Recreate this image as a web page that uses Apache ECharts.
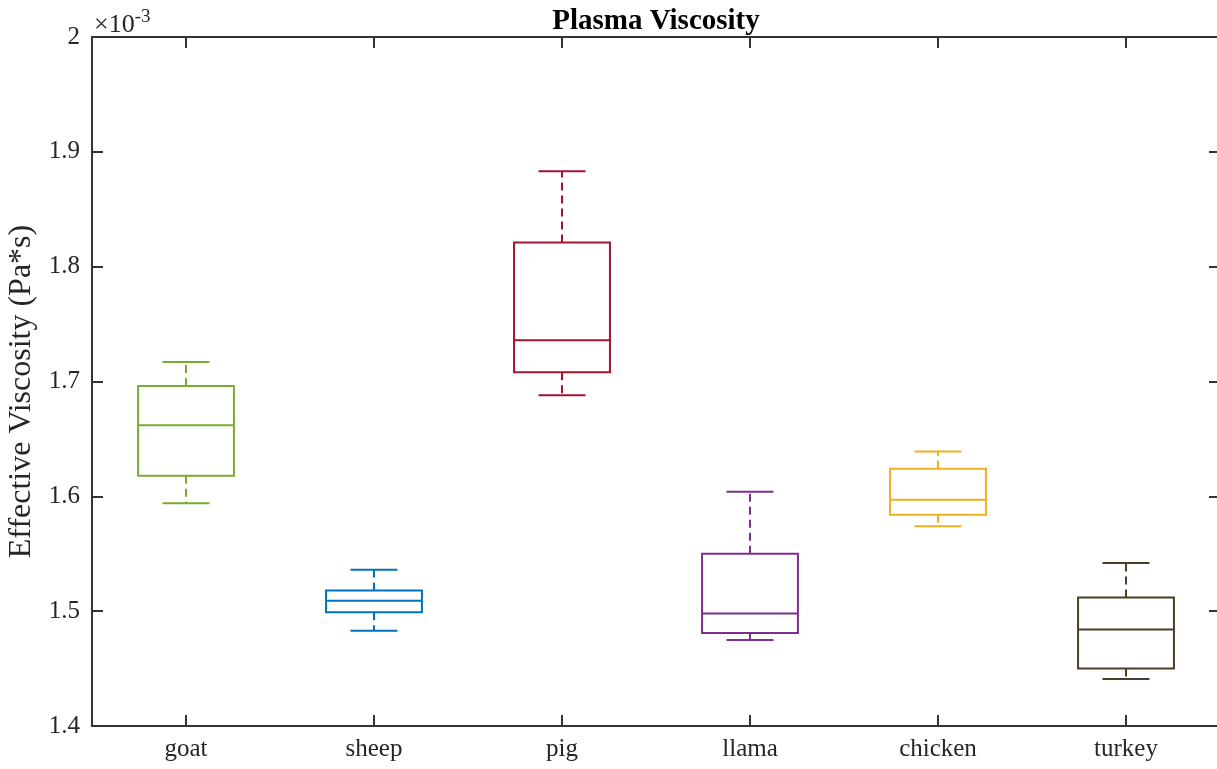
<!DOCTYPE html>
<html>
<head>
<meta charset="utf-8">
<title>Plasma Viscosity</title>
<script src="https://cdn.jsdelivr.net/npm/echarts@6/dist/echarts.min.js"></script>
<style>
  html, body { margin: 0; padding: 0; background: #ffffff; }
  #chart { width: 1217px; height: 769px; }
</style>
</head>
<body>
<div id="chart"></div>
<script>
// Effective plasma viscosity per species, in units of 1e-3 Pa*s
const categories = ['goat', 'sheep', 'pig', 'llama', 'chicken', 'turkey'];
const whiskerLow = [1.594, 1.483, 1.688, 1.475, 1.574, 1.441];
const quartile1  = [1.618, 1.499, 1.708, 1.481, 1.584, 1.450];
const median     = [1.662, 1.509, 1.736, 1.498, 1.597, 1.484];
const quartile3  = [1.696, 1.518, 1.821, 1.550, 1.624, 1.512];
const whiskerHigh = [1.717, 1.536, 1.883, 1.604, 1.639, 1.542];
const boxColors = ['#77AC30', '#0072BD', '#A2142F', '#7E2F8E', '#EDB120', '#4f3d26'];
const yTicks = { min: 1.4, max: 2.0, step: 0.1 };

const FONT = '"Liberation Serif", "Times New Roman", serif';
const AXIS_COLOR = '#333333';
const GRID = { left: 92, top: 37, width: 1128, height: 689 };

const boxData = categories.map((c, i) =>
  [i, whiskerLow[i], quartile1[i], median[i], quartile3[i], whiskerHigh[i]]);

function renderBox(params, api) {
  const i = api.value(0);
  const band = api.size([1, 0])[0];
  const boxHalf = band * 0.255;
  const capHalf = band * 0.125;
  const pLow = api.coord([i, api.value(1)]);
  const pQ1 = api.coord([i, api.value(2)]);
  const pMed = api.coord([i, api.value(3)]);
  const pQ3 = api.coord([i, api.value(4)]);
  const pHigh = api.coord([i, api.value(5)]);
  const x = pMed[0];
  const color = boxColors[i];
  const solid = { stroke: color, lineWidth: 2, fill: null };
  const dashed = { stroke: color, lineWidth: 2, lineDash: [8, 5] };
  return {
    type: 'group',
    children: [
      { type: 'line', shape: { x1: x, y1: pQ3[1], x2: x, y2: pHigh[1] }, style: dashed },
      { type: 'line', shape: { x1: x, y1: pQ1[1], x2: x, y2: pLow[1] }, style: dashed },
      { type: 'line', shape: { x1: x - capHalf, y1: pHigh[1], x2: x + capHalf, y2: pHigh[1] }, style: solid },
      { type: 'line', shape: { x1: x - capHalf, y1: pLow[1], x2: x + capHalf, y2: pLow[1] }, style: solid },
      { type: 'rect', shape: { x: x - boxHalf, y: pQ3[1], width: boxHalf * 2, height: pQ1[1] - pQ3[1] }, style: solid },
      { type: 'line', shape: { x1: x - boxHalf, y1: pMed[1], x2: x + boxHalf, y2: pMed[1] }, style: solid }
    ]
  };
}

const frameLine = { show: true, lineStyle: { color: AXIS_COLOR, width: 2 } };
const innerTick = { show: true, inside: true, length: 11, lineStyle: { color: AXIS_COLOR, width: 2 } };

const chart = echarts.init(document.getElementById('chart'), null, { renderer: 'canvas' });
chart.setOption({
  animation: false,
  backgroundColor: '#ffffff',
  grid: Object.assign({ containLabel: false, outerBoundsMode: 'none' }, GRID),
  xAxis: [
    {
      type: 'category', data: categories, position: 'bottom',
      axisLine: frameLine,
      axisTick: Object.assign({ alignWithLabel: true }, innerTick),
      axisLabel: { color: '#262626', fontFamily: FONT, fontSize: 25, margin: 11 },
      splitLine: { show: false }
    },
    {
      type: 'category', data: categories, position: 'top',
      axisLine: frameLine,
      axisTick: Object.assign({ alignWithLabel: true }, innerTick),
      axisLabel: { show: false },
      splitLine: { show: false }
    }
  ],
  yAxis: [
    {
      type: 'value', position: 'left',
      min: yTicks.min, max: yTicks.max, interval: yTicks.step,
      axisLine: frameLine, axisTick: innerTick,
      axisLabel: {
        color: '#262626', fontFamily: FONT, fontSize: 25, margin: 12,
        formatter: v => String(+v.toFixed(1))
      },
      splitLine: { show: false },
      name: 'Effective Viscosity (Pa*s)',
      nameLocation: 'middle', nameGap: 51, nameRotate: 90,
      nameTextStyle: { color: '#262626', fontFamily: FONT, fontSize: 32, padding: [0, 20, 0, 0] }
    },
    {
      type: 'value', position: 'right',
      min: yTicks.min, max: yTicks.max, interval: yTicks.step,
      axisLine: frameLine, axisTick: innerTick,
      axisLabel: { show: false },
      splitLine: { show: false }
    }
  ],
  graphic: [
    {
      type: 'text', x: GRID.left + GRID.width / 2, y: 36, z: 10,
      style: {
        text: 'Plasma Viscosity', fill: '#000000',
        font: 'bold 29px ' + FONT, textAlign: 'center', textVerticalAlign: 'bottom'
      }
    },
    {
      type: 'text', left: 94, top: 8, z: 10,
      style: {
        text: '{b|×10}{s|-3}',
        rich: {
          b: { fontFamily: FONT, fontSize: 26, fill: '#262626', verticalAlign: 'bottom', lineHeight: 30 },
          s: { fontFamily: FONT, fontSize: 19, fill: '#262626', verticalAlign: 'top', lineHeight: 30, padding: [0, 0, 10, 0] }
        }
      }
    }
  ],
  series: [
    {
      type: 'custom', xAxisIndex: 0, yAxisIndex: 0,
      renderItem: renderBox,
      encode: { x: 0, y: [1, 2, 3, 4, 5] },
      data: boxData,
      clip: false
    }
  ]
});
</script>
</body>
</html>
